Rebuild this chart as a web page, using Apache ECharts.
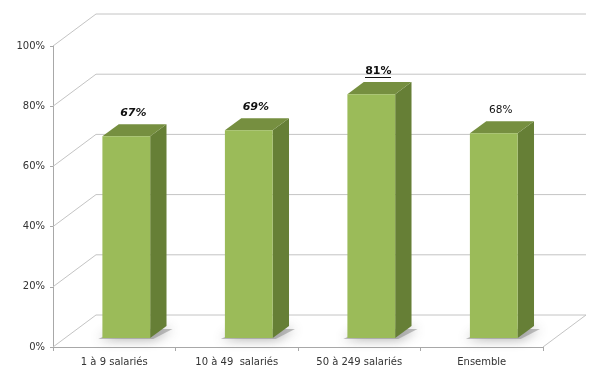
<!DOCTYPE html>
<html><head><meta charset="utf-8">
<script src="https://cdn.jsdelivr.net/npm/echarts@6/dist/echarts.min.js"></script>
<style>html,body{margin:0;padding:0;background:#fff}#c{width:600px;height:375px}</style>
</head><body><div id="c"></div>
<script>
// ---- data ----
const categories = ['1 à 9 salariés', '10 à 49  salariés', '50 à 249 salariés', 'Ensemble'];
const values = [67, 69, 81, 68];
const valueLabels = ['67%', '69%', '81%', '68%'];
const yTicks = [0, 20, 40, 60, 80, 100];

// ---- styling / geometry constants ----
const DEPTH_X = 43, DEPTH_Y = 32;
const BAR_FRONT = 0.28, BAR_BACK = 0.66;
const BAR_W = 0.39;
const GRID_COLOR = '#C4C4C4';
const AXIS_COLOR = '#A8A8A8';
const FONT = '"DejaVu Sans", Verdana, sans-serif';
const labelStyles = [
  { weight: 'bold', style: 'italic', size: 11, underline: false },
  { weight: 'bold', style: 'italic', size: 11, underline: false },
  { weight: 'bold', style: 'normal', size: 11, underline: true },
  { weight: 'normal', style: 'normal', size: 10.5, underline: false }
];
const measureCtx = document.createElement('canvas').getContext('2d');

const chart = echarts.init(document.getElementById('c'), null, { renderer: 'canvas' });

function renderWalls(params, api) {
  const cs = params.coordSys;
  const v = api.value(1);
  const y = api.coord([0, v])[1];
  const xl = cs.x, xr = cs.x + cs.width;
  const children = [{
    type: 'polyline',
    shape: { points: [[xl, y], [xl + DEPTH_X, y - DEPTH_Y], [xr + DEPTH_X, y - DEPTH_Y]] },
    style: { stroke: GRID_COLOR, lineWidth: 1, fill: null }
  }];
  if (v === 0) {
    children.push({
      type: 'line',
      shape: { x1: xr, y1: y, x2: xr + DEPTH_X, y2: y - DEPTH_Y },
      style: { stroke: GRID_COLOR, lineWidth: 1 }
    });
  }
  return { type: 'group', children: children };
}

function renderBars(params, api) {
  const i = api.value(0), v = api.value(1);
  const idx = params.dataIndex;
  const base = api.coord([i, 0]);
  const top = api.coord([i, v]);
  const cw = api.size([1, 0])[0];
  const w = cw * BAR_W;
  const ox = DEPTH_X * BAR_FRONT, oy = DEPTH_Y * BAR_FRONT;
  const dx = DEPTH_X * (BAR_BACK - BAR_FRONT), dy = DEPTH_Y * (BAR_BACK - BAR_FRONT);
  const x0 = base[0] + ox - w / 2, x1 = x0 + w;
  const yb = base[1] - oy, yt = top[1] - oy;
  const ls = labelStyles[idx];
  const font = ls.style + ' ' + ls.weight + ' ' + ls.size + 'px ' + FONT;
  measureCtx.font = font;
  const tw = measureCtx.measureText(valueLabels[idx]).width;
  const lx = x0 + w / 2 + 7, ly = yt - dy - 11;
  const uy = Math.round(ly + 6) + 0.5;
  const children = [
    { // floor shadow
      type: 'polygon',
      shape: { points: [[x0 - 4, yb + 1], [x1 + 3, yb + 1], [x1 + dx + 6, yb - dy + 3], [x0 + dx, yb - dy + 3]] },
      style: { fill: 'rgba(140,140,140,0.55)', shadowBlur: 12, shadowColor: 'rgba(70,70,70,0.9)' }
    },
    { // side face
      type: 'polygon',
      shape: { points: [[x1, yb], [x1 + dx, yb - dy], [x1 + dx, yt - dy], [x1, yt]] },
      style: { fill: '#667F36' }
    },
    { // top face
      type: 'polygon',
      shape: { points: [[x0, yt], [x0 + dx, yt - dy], [x1 + dx, yt - dy], [x1, yt]] },
      style: { fill: '#768F40' }
    },
    { // front face
      type: 'rect',
      shape: { x: x0, y: yt, width: w, height: yb - yt },
      style: { fill: '#9BBB59' }
    },
    {
      type: 'text',
      x: lx, y: ly,
      style: { text: valueLabels[idx], font: font, fill: '#111', align: 'center', verticalAlign: 'middle' }
    }
  ];
  if (ls.underline) {
    children.push({
      type: 'line',
      shape: { x1: Math.round(lx - tw / 2), y1: uy, x2: Math.round(lx + tw / 2), y2: uy },
      style: { stroke: '#111', lineWidth: 1 }
    });
  }
  return { type: 'group', children: children };
}

chart.setOption({
  animation: false,
  backgroundColor: '#fff',
  grid: { left: 53, right: 57, top: 46, bottom: 28, containLabel: false },
  xAxis: {
    type: 'category',
    data: categories,
    axisLine: { lineStyle: { color: AXIS_COLOR } },
    axisTick: { show: true, length: 4, lineStyle: { color: AXIS_COLOR } },
    axisLabel: { color: '#333', fontFamily: FONT, fontSize: 10, margin: 10 },
    splitLine: { show: false }
  },
  yAxis: {
    type: 'value',
    min: 0, max: 100, interval: 20,
    axisLine: { show: true, lineStyle: { color: AXIS_COLOR } },
    axisTick: { show: true, length: 3, lineStyle: { color: AXIS_COLOR } },
    axisLabel: { color: '#333', fontFamily: FONT, fontSize: 10, margin: 8, formatter: v => v + '%' },
    splitLine: { show: false }
  },
  series: [
    {
      type: 'custom',
      renderItem: renderWalls,
      data: yTicks.map(t => [0, t]),
      silent: true, z: 1
    },
    {
      type: 'custom',
      renderItem: renderBars,
      data: values.map((v, i) => [i, v]),
      z: 3
    }
  ]
});
</script>
</body></html>
